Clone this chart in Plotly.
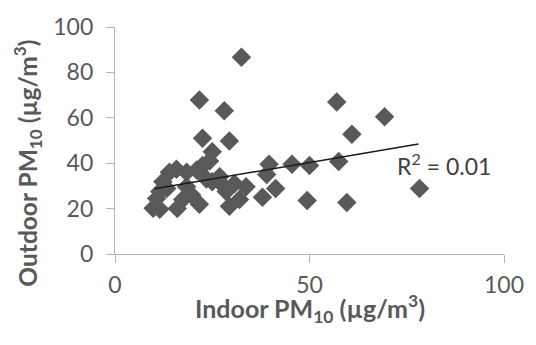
import plotly.graph_objects as go

# Indoor vs outdoor PM10 (µg/m³)
indoor = [32.5, 21.7, 28.1, 57.0, 69.3, 60.9, 22.5, 29.4, 25.0,
          39.6, 45.5, 50.0, 57.5, 39.0, 41.3, 37.9, 49.4, 59.6, 78.3,
          9.8, 11.5, 16.0, 21.7, 29.4, 32.0, 33.7, 30.7, 27.6, 25.0,
          19.7, 17.4, 13.3, 12.3, 14.0, 15.8, 18.4, 21.0, 22.5, 24.3,
          23.5, 26.9, 28.6, 18.4, 11.5, 10.7]
outdoor = [86.7, 67.8, 63.1, 67.0, 60.5, 52.8, 51.0, 49.8, 45.0,
           39.5, 39.5, 39.0, 40.8, 35.0, 28.8, 25.0, 23.6, 22.7, 28.8,
           20.2, 19.7, 20.0, 21.9, 21.0, 24.0, 29.6, 31.0, 30.5, 31.8,
           26.0, 24.0, 28.8, 31.8, 36.0, 37.3, 36.0, 37.0, 39.0, 41.0,
           33.0, 34.0, 27.5, 29.6, 27.5, 24.5]

# Linear trendline (as drawn in the picture)
trend_slope = 0.29
trend_intercept = 25.8
trend_x = [10.2, 78.0]
trend_y = [trend_intercept + trend_slope * x for x in trend_x]
r2_label = "R<sup>2</sup> = 0.01"

x_ticks = [0, 50, 100]
y_ticks = [0, 20, 40, 60, 80, 100]

FONT = "Lato, 'Open Sans', sans-serif"
TXT = "#595959"
AX = "#b3b3b3"

fig = go.Figure()
fig.add_trace(go.Scatter(
    x=indoor, y=outdoor, mode="markers",
    marker=dict(symbol="diamond", size=15, color="#595959",
                line=dict(width=0)),
    showlegend=False, hoverinfo="skip"))
fig.add_trace(go.Scatter(
    x=trend_x, y=trend_y, mode="lines",
    line=dict(color="#1a1a1a", width=1.5),
    showlegend=False, hoverinfo="skip"))

fig.update_layout(
    width=536, height=345,
    margin=dict(l=115, r=30, t=21, b=91),
    paper_bgcolor="white", plot_bgcolor="white",
    font=dict(family=FONT, size=23, color=TXT),
    xaxis=dict(range=[0, 100], tickvals=x_ticks, showgrid=False,
               zeroline=False, showline=True, linecolor=AX, linewidth=1.3,
               ticks="outside", ticklen=8, tickcolor=AX, tickwidth=1.3,
               ticklabelstandoff=2,
               tickfont=dict(family=FONT, size=23, color=TXT)),
    yaxis=dict(range=[0, 100], tickvals=y_ticks, showgrid=False,
               zeroline=False, showline=True, linecolor=AX, linewidth=1.3,
               ticks="outside", ticklen=8, tickcolor=AX, tickwidth=1.3,
               ticklabelstandoff=8,
               tickfont=dict(family=FONT, size=23, color=TXT)),
    annotations=[
        dict(text="<b>Indoor PM<sub>10</sub> (µg/m<sup>3</sup>)</b>",
             xref="paper", yref="paper", x=0.5, y=-0.242,
             xanchor="center", yanchor="middle", showarrow=False,
             font=dict(family=FONT, size=25, color=TXT)),
        dict(text="<b>Outdoor PM<sub>10</sub> (µg/m<sup>3</sup>)</b>",
             xref="paper", yref="paper", x=-0.225, y=0.40,
             xanchor="center", yanchor="middle", showarrow=False,
             textangle=-90,
             font=dict(family=FONT, size=24.5, color=TXT)),
        dict(text=r2_label, xref="x", yref="y", x=84.5, y=39.5,
             xanchor="center", yanchor="middle", showarrow=False,
             font=dict(family=FONT, size=23, color="#404040")),
    ],
)

fig.write_html("out.html")
